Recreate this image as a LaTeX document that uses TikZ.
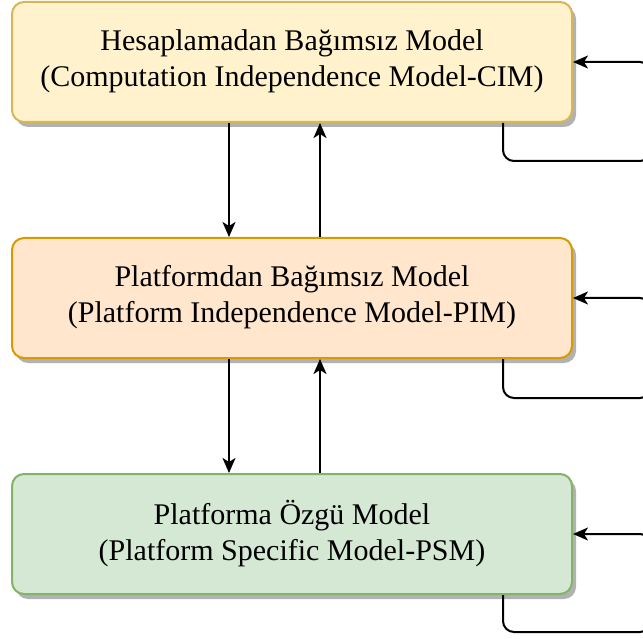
\documentclass[tikz,border=0pt]{standalone}
\usepackage{fontspec}
\setmainfont{Liberation Serif}
\usetikzlibrary{arrows.meta,shadows}
\definecolor{cimfill}{HTML}{FFF2CC}
\definecolor{cimline}{HTML}{D6B656}
\definecolor{pimfill}{HTML}{FFE6CC}
\definecolor{pimline}{HTML}{D79B00}
\definecolor{psmfill}{HTML}{D5E8D4}
\definecolor{psmline}{HTML}{82B366}
\tikzset{
  modelbox/.style={draw, rounded corners=12pt, minimum width=560pt, minimum height=120pt,
    line width=2pt, align=center, inner sep=0pt,
    font=\fontsize{30}{36}\selectfont, text depth=8pt,
    drop shadow={shadow xshift=4pt, shadow yshift=-5pt, fill=black!30, opacity=1}},
  flow/.style={line width=2pt, -{Stealth[length=15pt,width=13pt,inset=4pt]}},
  selfloop/.style={flow, rounded corners=11pt}
}
\begin{document}
\begin{tikzpicture}[x=1pt,y=-1pt]
\useasboundingbox (0,0) rectangle (643,639);
\clip (0,0) rectangle (643,639);

% the three model levels
\node[modelbox, fill=cimfill, draw=cimline] (cim) at (292,62)
  {Hesaplamadan Bağımsız Model\\(Computation Independence Model-CIM)};
\node[modelbox, fill=pimfill, draw=pimline] (pim) at (292,298)
  {Platformdan Bağımsız Model\\(Platform Independence Model-PIM)};
\node[modelbox, fill=psmfill, draw=psmline] (psm) at (292,534)
  {Platforma Özgü Model\\(Platform Specific Model-PSM)};

% columns of the vertical transformations
\coordinate (down) at (229,0);
\coordinate (up) at (320,0);
\coordinate (loopstart) at (503,0);
\coordinate (loopright) at (651,0);
\coordinate (cimlow) at (0,161);
\coordinate (pimlow) at (0,398);
\coordinate (psmlow) at (0,632);

% refinement down, feedback up
\draw[flow] (cim.south -| down) -- (pim.north -| down);
\draw[flow] (pim.north -| up) -- (cim.south -| up);
\draw[flow] (pim.south -| down) -- (psm.north -| down);
\draw[flow] (psm.north -| up) -- (pim.south -| up);

% self iterations at each level
\draw[selfloop] (cim.south -| loopstart) |- (loopright |- cimlow) |- (cim.east);
\draw[selfloop] (pim.south -| loopstart) |- (loopright |- pimlow) |- (pim.east);
\draw[selfloop] (psm.south -| loopstart) |- (loopright |- psmlow) |- (psm.east);
\end{tikzpicture}
\end{document}
